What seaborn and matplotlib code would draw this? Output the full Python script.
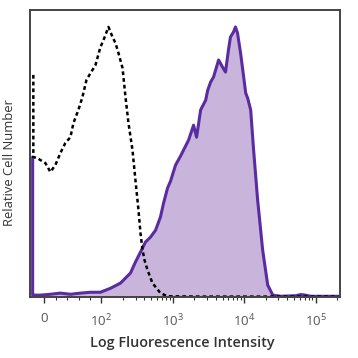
import matplotlib
matplotlib.use("Agg")
import matplotlib.pyplot as plt
import seaborn as sns
import numpy as np
import pandas as pd
from matplotlib.ticker import FixedLocator

# isotype control (dashed) - fluorescence vs relative count
ctrl_x = [-19.3, -19.3, -12.3, 1.8, 10.5, 19.3, 28.1, 36.8, 45.6, 50.9, 59.6, 66.7, 73.7, 80.7,
          89.5, 98.2, 106.7, 125.4, 142.7, 157.2, 173.1, 197.2, 217, 239, 272, 299, 330, 352,
          376, 401, 442, 518, 670, 840, 2450, 12300, 61800, 208000]
ctrl_y = [77.4, 48.8, 48.4, 46.7, 43.6, 46.0, 50.2, 53.7, 55.7, 60.6, 65.2, 69.7, 75.6, 78.0,
          80.8, 87.1, 89.5, 94.1, 90.6, 88.5, 85.0, 79.8, 69.7, 60.6, 51.2, 40.8, 30.3, 22.3,
          16.4, 12.9, 9.4, 4.9, 1.4, 0.3, 0.2, 0.2, 0.2, 0.2]

# stained sample (filled purple)
stain_x = [-20.5, -20.5, -19.3, -7.0, 10.5, 28.1, 45.6, 63.2, 80.7, 98.2, 134, 185, 255, 299,
           352, 414, 486, 572, 670, 742, 843, 928, 1090, 1280, 1410, 1660, 1950, 2150, 2450,
           2880, 3080, 3380, 3720, 4370, 4970, 5460, 6010, 6410, 7060, 7530, 8040, 8880,
           9810, 10470, 11170, 12300, 13520, 15400, 18100, 21300, 25100, 32500, 52700,
           61800, 72500, 85000, 208000]
stain_y = [48.8, 0.7, 0.7, 0.7, 1.0, 1.4, 1.0, 1.4, 1.7, 1.7, 3.1, 4.9, 8.4, 12.2,
           15.7, 19.2, 20.9, 23.3, 27.9, 32.8, 38.0, 40.4, 46.0, 49.1, 51.2, 54.7, 59.9, 55.7, 65.2,
           68.6, 72.1, 74.9, 76.7, 82.6, 80.1, 78.4, 86.1, 90.6, 92.3, 94.1, 92.0, 85.0,
           76.7, 71.1, 69.3, 65.2, 51.2, 33.8, 16.4, 4.2, 0.7, 0.3, 0.5,
           0.9, 0.7, 0.3, 0.3]

tick_vals = [0, 1e2, 1e3, 1e4, 1e5]
tick_labels = ["0", "$10^2$", "$10^3$", "$10^4$", "$10^5$"]

sns.set_theme(style="ticks")
plt.rcParams["font.family"] = ["Open Sans", "DejaVu Sans"]
plt.rcParams["mathtext.default"] = "regular"

fig = plt.figure(figsize=(3.58, 3.58), dpi=100)
ax = fig.add_axes([0.084, 0.170, 0.866, 0.802])

stain = pd.DataFrame({"x": stain_x, "y": stain_y})
ctrl = pd.DataFrame({"x": ctrl_x, "y": ctrl_y})

ax.fill_between(stain["x"], 0, stain["y"], color="#c9b5dc", lw=0)
sns.lineplot(data=stain, x="x", y="y", sort=False, estimator=None, ax=ax,
             color="#5a2ca0", lw=2.2)
sns.lineplot(data=ctrl, x="x", y="y", sort=False, estimator=None, ax=ax,
             color="black", lw=1.8, linestyle=(0, (1.5, 1.2)))

ax.set_xscale("symlog", linthresh=100, linscale=0.72)
ax.set_xlim(-25, 2.2e5)
ax.set_ylim(0, 100)

ax.xaxis.set_major_locator(FixedLocator(tick_vals))
ax.set_xticklabels(tick_labels)
minor = [v * m for v in [100, 1000, 10000] for m in range(2, 10)] + [20, 40, 60, 80, 2e5]
ax.xaxis.set_minor_locator(FixedLocator(minor))
ax.tick_params(axis="x", which="major", length=4, width=1, colors="#333333",
               labelsize=9.5, pad=7, labelcolor="#555555")
ax.tick_params(axis="x", which="minor", length=2.5, width=0.8, colors="#333333")
ax.set_yticks([])

for s in ax.spines.values():
    s.set_color("#444444")
    s.set_linewidth(1.4)

ax.set_xlabel("Log Fluorescence Intensity", fontsize=10.4, color="#333333",
              fontweight="semibold")
ax.set_ylabel("Relative Cell Number", fontsize=9.4, color="#333333")
ax.xaxis.set_label_coords(0.49, -0.135)
ax.yaxis.set_label_coords(-0.045, 0.47)

fig.savefig("out.png", dpi=100)
